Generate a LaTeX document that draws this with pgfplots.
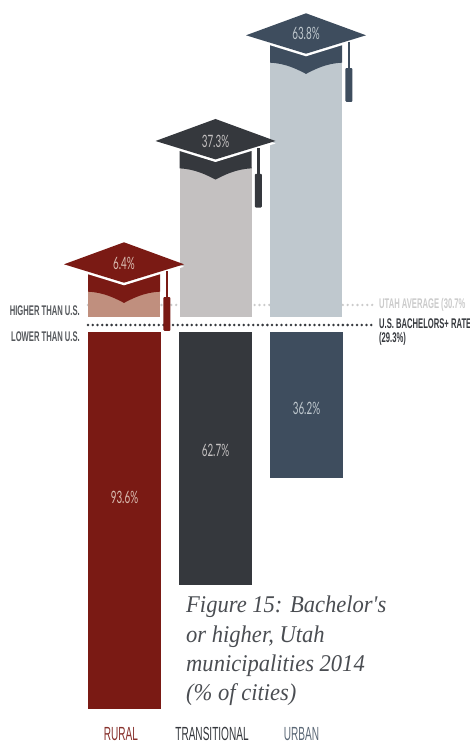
\documentclass[border=0pt]{standalone}
\usepackage{fontspec}
\usepackage{pgfplots}
\pgfplotsset{compat=1.18}
\setmainfont{Liberation Sans}
\newfontfamily\labelfont[FakeStretch=0.53]{Liberation Sans}
\newfontfamily\notefont[FakeStretch=0.545]{Liberation Sans}
\newfontfamily\valuefont[FakeStretch=0.58]{Lato}
\newfontfamily\titlefont[FakeStretch=0.94]{Liberation Serif}

\definecolor{ruralD}{HTML}{7A1A14}
\definecolor{ruralL}{HTML}{C08F7E}
\definecolor{transD}{HTML}{35383D}
\definecolor{transL}{HTML}{C4C1C1}
\definecolor{urbanD}{HTML}{3E4D5E}
\definecolor{urbanL}{HTML}{BFC8CE}
\definecolor{avgGray}{HTML}{CBCBCB}
\definecolor{noteGray}{HTML}{55585C}
\definecolor{titleGray}{HTML}{4A4D52}

% Mortarboard: centre x, y of the board's top point, colour
\newcommand{\gradcap}[3]{%
  \begin{scope}[shift={(#1,#2)}]
    \fill[#3] (-36,30) -- (36,30) -- (36,49.4)
      .. controls (20,50) and (8,56.5) .. (0,60.6)
      .. controls (-8,56.5) and (-20,50) .. (-36,49.4) -- cycle;
    \fill[white] (-60,24.5) -- (0,2.5) -- (60,24.5) -- (0,43) -- cycle;
    \fill[#3] (-60,22) -- (0,0) -- (60,22) -- (0,40.4) -- cycle;
    \fill[#3] (41.6,29) rectangle (44.2,56);
    \fill[#3, rounded corners=1pt] (39.4,88.6) -- (39.4,54.8) -- (46.4,54.8) -- (46.4,88.6) -- cycle;
  \end{scope}}

\begin{document}
\begin{tikzpicture}[x=1pt,y=1pt]
\path[use as bounding box] (0,0) rectangle (470,744);

% Share of cities below the U.S. rate, hanging from the lower baseline
\begin{axis}[
  at={(0pt,412pt)}, anchor=north west,
  scale only axis, width=470pt, height=385pt,
  xmin=0, xmax=470, ymin=0, ymax=95.533,
  y dir=reverse, clip=false,
  axis line style={draw=none},
  major tick length=0pt,
  ytick=\empty,
  xtick={121,212,301.5},
  xticklabel pos=lower,
  xticklabel style={font=\labelfont\fontsize{19}{19}\selectfont, inner sep=0pt, anchor=base, yshift=-23pt},
  xticklabels={\textcolor{ruralD!90!white}{RURAL},\textcolor{transD}{TRANSITIONAL},\textcolor{urbanD!85!white}{URBAN}},
  bar width=73pt,
]
\addplot[ybar, bar shift=0pt, fill=ruralD, draw=none] coordinates {(124.5,93.6)};
\addplot[ybar, bar shift=0pt, fill=transD, draw=none] coordinates {(215.5,62.7)};
\addplot[ybar, bar shift=0pt, fill=urbanD, draw=none] coordinates {(306.5,36.2)};
% U.S. bachelor's rate divider, above the lower baseline
\addplot[transD, line width=2.8pt, line cap=round, dash pattern=on 0pt off 4.72pt]
  coordinates {(88,-1.737) (374,-1.737)};
\end{axis}

% Share of cities above the U.S. rate, rising from the upper baseline
\begin{axis}[
  at={(0pt,427pt)}, anchor=south west,
  scale only axis, width=470pt, height=317pt,
  xmin=0, xmax=470, ymin=0, ymax=78.66,
  hide axis, clip=false,
  bar width=72pt,
]
% Utah average divider, passing behind the bars
\addplot[avgGray, line width=2.6pt, line cap=round, dash pattern=on 0pt off 4.9pt]
  coordinates {(88,2.98) (374,2.98)};
\addplot[ybar, bar shift=0pt, fill=ruralL, draw=none] coordinates {(124,6.4)};
\addplot[ybar, bar shift=0pt, fill=transL, draw=none] coordinates {(216,37.3)};
\addplot[ybar, bar shift=0pt, fill=urbanL, draw=none] coordinates {(306,63.8)};
\end{axis}

\begin{scope}[x=1pt,y=-1pt,shift={(0pt,744pt)}]
  \gradcap{124}{242.3}{ruralD}
  \gradcap{215.5}{119}{transD}
  \gradcap{306}{13.3}{urbanD}

  % value labels
  \def\vf{\valuefont\fontsize{17}{17}\selectfont}
  \node[text=ruralL!60!white, font=\vf] at (124,263) {6.4\%};
  \node[text=transL, font=\vf] at (215.5,141) {37.3\%};
  \node[text=urbanL, font=\vf] at (306,33) {63.8\%};
  \node[text=ruralL!60!white, font=\vf] at (124.5,497) {93.6\%};
  \node[text=transL, font=\vf] at (215.5,450) {62.7\%};
  \node[text=urbanL, font=\vf] at (306.5,408) {36.2\%};

  % annotations beside the dividers
  \def\nf{\notefont\bfseries\fontsize{14}{14}\selectfont}
  \node[anchor=base east, inner sep=0pt, text=noteGray, font=\nf] at (80,316) {HIGHER THAN U.S.};
  \node[anchor=base east, inner sep=0pt, text=noteGray, font=\nf] at (80,342) {LOWER THAN U.S.};
  \node[anchor=base west, inner sep=0pt, text=avgGray, font=\nf] at (379,309) {UTAH AVERAGE (30.7\%};
  \node[anchor=base west, inner sep=0pt, text=transD, font=\nf] at (379,329) {U.S. BACHELORS+ RATE};
  \node[anchor=base west, inner sep=0pt, text=transD, font=\nf] at (379,343) {(29.3\%)};

  % figure caption
  \def\tf{\titlefont\itshape\fontsize{24}{24}\selectfont}
  \node[anchor=base west, inner sep=0pt, text=titleGray, font=\tf] at (186,613) {Figure 15: Bachelor's};
  \node[anchor=base west, inner sep=0pt, text=titleGray, font=\tf] at (186,642.5) {or higher, Utah};
  \node[anchor=base west, inner sep=0pt, text=titleGray, font=\tf] at (186,672) {municipalities 2014};
  \node[anchor=base west, inner sep=0pt, text=titleGray, font=\tf] at (186,700.5) {(\% of cities)};
\end{scope}
\end{tikzpicture}
\end{document}
